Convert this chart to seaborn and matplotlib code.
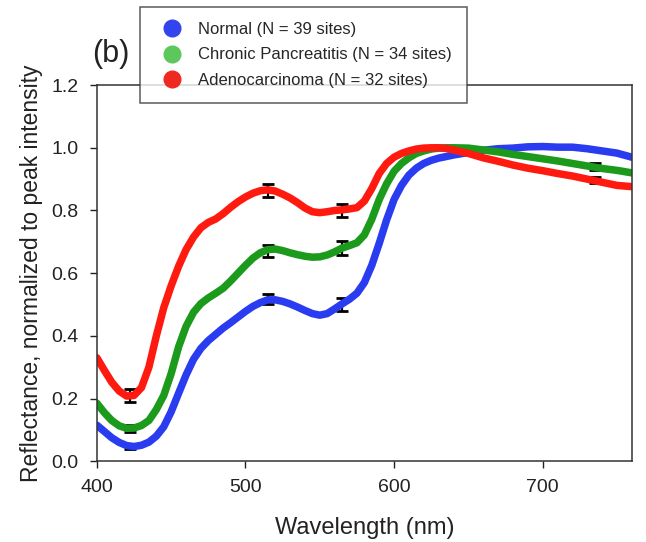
import matplotlib
matplotlib.use("Agg")
import matplotlib.pyplot as plt
from matplotlib.lines import Line2D
import numpy as np
import pandas as pd
import seaborn as sns

# Wavelength grid (nm)
wavelength = [400, 405, 410, 415, 420, 425, 430, 435, 440, 445, 450, 455, 460, 465,
              470, 475, 480, 485, 490, 495, 500, 505, 510, 515, 520, 525, 530, 535,
              540, 545, 550, 555, 560, 565, 570, 575, 580, 585, 590, 595, 600, 605,
              610, 615, 620, 625, 630, 635, 640, 650, 660, 670, 680, 690, 700, 710,
              720, 730, 740, 750, 760]

normal = [0.115, 0.095, 0.075, 0.060, 0.050, 0.047, 0.051, 0.061, 0.080, 0.110,
          0.158, 0.217, 0.275, 0.325, 0.360, 0.385, 0.405, 0.425, 0.442, 0.460,
          0.478, 0.494, 0.506, 0.515, 0.515, 0.510, 0.502, 0.492, 0.481, 0.471,
          0.466, 0.471, 0.486, 0.502, 0.517, 0.536, 0.570, 0.625, 0.695, 0.770,
          0.835, 0.880, 0.913, 0.935, 0.950, 0.960, 0.967, 0.972, 0.977, 0.985,
          0.992, 0.997, 0.999, 1.003, 1.004, 1.002, 1.002, 0.997, 0.990, 0.983,
          0.970]

pancreatitis = [0.185, 0.155, 0.130, 0.113, 0.105, 0.106, 0.114, 0.130, 0.165, 0.210,
                0.280, 0.365, 0.430, 0.475, 0.503, 0.521, 0.536, 0.552, 0.575, 0.600,
                0.625, 0.648, 0.665, 0.675, 0.677, 0.672, 0.665, 0.659, 0.654, 0.651,
                0.652, 0.658, 0.668, 0.680, 0.688, 0.697, 0.722, 0.772, 0.835, 0.885,
                0.925, 0.950, 0.968, 0.982, 0.990, 0.996, 0.999, 1.000, 1.000, 0.999,
                0.993, 0.987, 0.979, 0.972, 0.965, 0.958, 0.950, 0.942, 0.934, 0.928,
                0.920]

adenocarcinoma = [0.330, 0.290, 0.252, 0.224, 0.208, 0.210, 0.235, 0.300, 0.400, 0.490,
                  0.560, 0.622, 0.675, 0.715, 0.745, 0.762, 0.773, 0.790, 0.810, 0.828,
                  0.843, 0.855, 0.863, 0.866, 0.862, 0.852, 0.840, 0.825, 0.808, 0.796,
                  0.793, 0.796, 0.800, 0.802, 0.805, 0.809, 0.830, 0.870, 0.918, 0.950,
                  0.970, 0.982, 0.990, 0.996, 0.999, 1.000, 1.000, 0.998, 0.993, 0.982,
                  0.968, 0.957, 0.945, 0.935, 0.927, 0.918, 0.910, 0.900, 0.890, 0.880,
                  0.876]

# Standard-error bars at selected wavelengths
err_wavelength = [422, 515, 565, 735]
normal_err_mean = [0.046, 0.518, 0.499, 0.995]
normal_err = [0.008, 0.017, 0.021, 0.004]
pancreatitis_err_mean = [0.105, 0.671, 0.681, 0.940]
pancreatitis_err = [0.012, 0.019, 0.023, 0.010]
adenocarcinoma_err_mean = [0.209, 0.865, 0.800, 0.898]
adenocarcinoma_err = [0.021, 0.021, 0.021, 0.010]

groups = ["Normal (N = 39 sites)",
          "Chronic Pancreatitis (N = 34 sites)",
          "Adenocarcinoma (N = 32 sites)"]
line_colors = ["#2a3cf0", "#1c9a1c", "#ff1a10"]
legend_colors = ["#3344ee", "#5cc85c", "#ee2a20"]

df = pd.concat([
    pd.DataFrame({"wavelength": wavelength, "reflectance": normal, "group": groups[0]}),
    pd.DataFrame({"wavelength": wavelength, "reflectance": pancreatitis, "group": groups[1]}),
    pd.DataFrame({"wavelength": wavelength, "reflectance": adenocarcinoma, "group": groups[2]}),
], ignore_index=True)

sns.set_theme(style="ticks")
plt.rcParams["font.family"] = ["Liberation Sans", "DejaVu Sans"]

fig = plt.figure(figsize=(6.46, 5.42), dpi=100)
ax = fig.add_axes([0.150, 0.149, 0.828, 0.694])

# Error bars sit beneath the curves
for xm, ym, ye in [(err_wavelength, normal_err_mean, normal_err),
                   (err_wavelength, pancreatitis_err_mean, pancreatitis_err),
                   (err_wavelength, adenocarcinoma_err_mean, adenocarcinoma_err)]:
    ax.errorbar(xm, ym, yerr=ye, fmt="none", ecolor="black", elinewidth=1.6,
                capsize=4.5, capthick=2.0, zorder=1)

sns.lineplot(data=df, x="wavelength", y="reflectance", hue="group",
             palette=dict(zip(groups, line_colors)), linewidth=5.4,
             legend=False, ax=ax, zorder=2)

ax.set_xlim(400, 760)
ax.set_ylim(0, 1.2)
ax.set_xticks([400, 500, 600, 700])
ax.set_yticks([0.0, 0.2, 0.4, 0.6, 0.8, 1.0, 1.2])
ax.yaxis.set_major_formatter(matplotlib.ticker.FormatStrFormatter("%.1f"))
ax.tick_params(axis="both", direction="out", length=5, width=1.0,
               labelsize=14, colors="#222222", pad=8)
for s in ax.spines.values():
    s.set_linewidth(1.1)
    s.set_color("#333333")

ax.set_xlabel("Wavelength (nm)", fontsize=17, labelpad=15, color="#222222")
ax.set_ylabel("Reflectance, normalized to peak intensity", fontsize=16.5,
              labelpad=6, color="#222222")

fig.text(0.142, 0.872, "(b)", fontsize=22, color="#222222", ha="left", va="bottom")

handles = [Line2D([], [], linestyle="none", marker="o", markersize=12,
                  markerfacecolor=c, markeredgecolor=c) for c in legend_colors]
leg = fig.legend(handles, groups, loc="upper left",
                 bbox_to_anchor=(140 / 646, 1 - 7 / 542), fontsize=12,
                 frameon=True, fancybox=False, edgecolor="#333333",
                 handletextpad=0.57, labelspacing=0.63, borderpad=0.9,
                 handlelength=2.0, borderaxespad=0)
leg.get_frame().set_linewidth(1.1)
leg.set_zorder(10)

fig.savefig("out.png", dpi=100)
